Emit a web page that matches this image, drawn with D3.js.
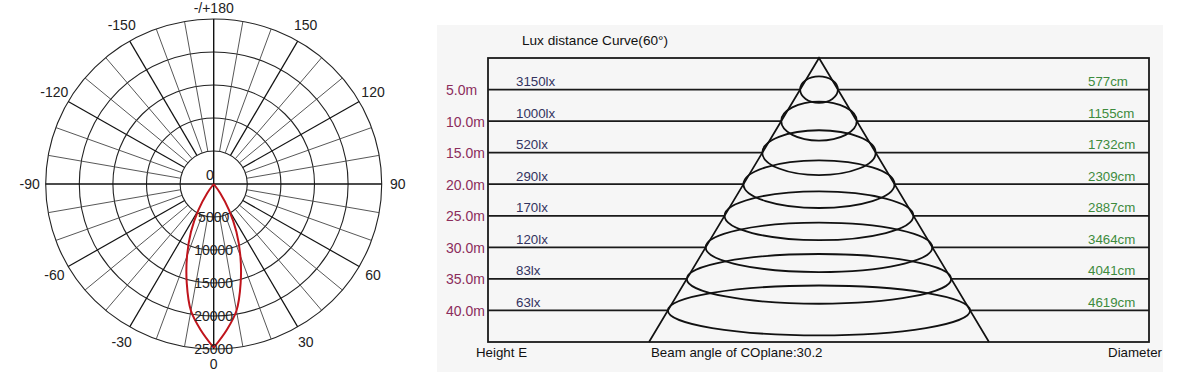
<!DOCTYPE html>
<html>
<head>
<meta charset="utf-8">
<script src="https://cdn.jsdelivr.net/npm/d3@7"></script>
<style>
body { margin: 0; background: #fff; }
text { font-family: 'Liberation Sans', Arial, sans-serif; }
</style>
</head>
<body>
<svg width="1180" height="372"></svg>
<script>
// polar intensity chart
var angleTicks = [0, 30, 60, 90, 120, 150, 180, -150, -120, -90, -60, -30];
var angleLabels = ['0', '30', '60', '90', '120', '150', '-/+180', '-150', '-120', '-90', '-60', '-30'];
var intensityTicks = [0, 5000, 10000, 15000, 20000, 25000];
var curveAngles = [-40, -35, -30, -25, -20, -15, -10, -5, 0, 5, 10, 15, 20, 25, 30, 35, 40];
var curveValues = [0, 1700, 4600, 8000, 11600, 15500, 19500, 22200, 24800, 22200, 19500, 15500, 11600, 8000, 4600, 1700, 0];

// lux distance chart
var heights = [5, 10, 15, 20, 25, 30, 35, 40];
var heightLabels = ['5.0m', '10.0m', '15.0m', '20.0m', '25.0m', '30.0m', '35.0m', '40.0m'];
var luxValues = ['3150lx', '1000lx', '520lx', '290lx', '170lx', '120lx', '83lx', '63lx'];
var diameters = [577, 1155, 1732, 2309, 2887, 3464, 4041, 4619];
var beamAngle = 60;
var coBeam = 30.2;
var maxHeight = 45;

function main() {
	var svg = d3.select('svg');

	// ---------- left: polar plot ----------
	var pcx = 213.7, pcy = 184;
	var rx = d3.scaleLinear().domain([0, 25000]).range([0, 168]);
	var ry = d3.scaleLinear().domain([0, 25000]).range([0, 165]);
	var maxI = intensityTicks[intensityTicks.length - 1];

	function pt(a, v) {
		var t = a * Math.PI / 180;
		return [pcx + rx(v) * Math.sin(t), pcy + ry(v) * Math.cos(t)];
	}

	var grid = svg.append('g');

	grid.selectAll('.ring')
		.data(intensityTicks.slice(1))
		.enter().append('ellipse')
		.attr('cx', pcx).attr('cy', pcy)
		.attr('rx', function(d){ return rx(d); })
		.attr('ry', function(d){ return ry(d); })
		.attr('fill', 'none')
		.attr('stroke', '#222')
		.attr('stroke-width', 1.1);

	// spokes every 10 degrees, outside the first ring
	var spokes = d3.range(0, 360, 10).filter(function(a){ return a % 90 != 0; });
	grid.selectAll('.spoke')
		.data(spokes)
		.enter().append('line')
		.attr('x1', function(d){ return pt(d, intensityTicks[1])[0]; })
		.attr('y1', function(d){ return pt(d, intensityTicks[1])[1]; })
		.attr('x2', function(d){ return pt(d, maxI)[0]; })
		.attr('y2', function(d){ return pt(d, maxI)[1]; })
		.attr('stroke', function(d){ return d % 30 == 0 ? '#111' : '#444'; })
		.attr('stroke-width', function(d){ return d % 30 == 0 ? 1.2 : 0.9; });

	// main axes
	[0, 90].forEach(function(a) {
		var p1 = pt(a, maxI), p2 = pt(a + 180, maxI);
		grid.append('line')
			.attr('x1', p1[0]).attr('y1', p1[1])
			.attr('x2', p2[0]).attr('y2', p2[1])
			.attr('stroke', '#111')
			.attr('stroke-width', 1.4);
	});

	// intensity curve, drawn as two halves meeting at the tip
	var pts = curveAngles.map(function(a, i){ return pt(a, curveValues[i]); });
	var mid = curveAngles.indexOf(0);
	var line = d3.line().curve(d3.curveCatmullRom);
	svg.append('path')
		.attr('d', line(pts.slice(0, mid + 1)) + line(pts.slice(mid)))
		.attr('fill', 'none')
		.attr('stroke', '#c0141c')
		.attr('stroke-width', 2);

	// intensity labels
	svg.selectAll('.ilabel')
		.data(intensityTicks)
		.enter().append('text')
		.attr('x', pcx)
		.attr('y', function(d){ return d == 0 ? pcy - 4 : pcy + ry(d); })
		.attr('dy', function(d){ return d == 0 ? 0 : '0.35em'; })
		.attr('text-anchor', function(d){ return d == 0 ? 'end' : 'middle'; })
		.attr('font-size', 14)
		.attr('fill', '#222')
		.text(function(d){ return d; });

	// angle labels
	svg.selectAll('.alabel')
		.data(angleTicks)
		.enter().append('text')
		.attr('x', function(d){ return pcx + 184 * Math.sin(d * Math.PI / 180); })
		.attr('y', function(d){
			var yy = pcy + 183 * Math.cos(d * Math.PI / 180);
			return Math.min(364, Math.max(8, yy));
		})
		.attr('dy', '0.35em')
		.attr('text-anchor', 'middle')
		.attr('font-size', 14)
		.attr('fill', '#222')
		.text(function(d, i){ return angleLabels[i]; });

	// ---------- right: lux distance curve ----------
	var ccx = 819, left = 488, right = 1149;
	var y = d3.scaleLinear().domain([0, maxHeight]).range([58, 342]);
	var tanHalf = Math.tan(beamAngle / 2 * Math.PI / 180);
	var xr = d3.scaleLinear().domain([0, maxHeight * 100 * tanHalf]).range([0, 170]);

	svg.append('rect')
		.attr('x', 437).attr('y', 25)
		.attr('width', 726).attr('height', 347)
		.attr('fill', '#f6f6f6');

	var r = svg.append('g');

	r.append('rect')
		.attr('x', left).attr('y', y(0))
		.attr('width', right - left).attr('height', y(maxHeight) - y(0))
		.attr('fill', 'none')
		.attr('stroke', '#1a1a1a')
		.attr('stroke-width', 1.8);

	function half(h) { return xr(h * 100 * tanHalf); }

	r.selectAll('.hl')
		.data(heights)
		.enter().append('path')
		.attr('d', function(d){
			return 'M' + left + ',' + y(d) + 'H' + (ccx - half(d)) +
				'M' + (ccx + half(d)) + ',' + y(d) + 'H' + right;
		})
		.attr('stroke', '#1a1a1a')
		.attr('stroke-width', 1.8);

	// cone
	r.append('path')
		.attr('d', 'M' + (ccx - half(maxHeight)) + ',' + y(maxHeight) +
			'L' + ccx + ',' + y(0) +
			'L' + (ccx + half(maxHeight)) + ',' + y(maxHeight))
		.attr('fill', 'none')
		.attr('stroke', '#111')
		.attr('stroke-width', 1.7);

	r.selectAll('.spot')
		.data(diameters)
		.enter().append('ellipse')
		.attr('cx', ccx)
		.attr('cy', function(d, i){ return y(heights[i]); })
		.attr('rx', function(d){ return xr(d / 2); })
		.attr('ry', function(d){ return 25 * (1 - Math.exp(-xr(d / 2) / 25)); })
		.attr('fill', 'none')
		.attr('stroke', '#111')
		.attr('stroke-width', 1.8);

	r.selectAll('.hlabel')
		.data(heights)
		.enter().append('text')
		.attr('x', 446)
		.attr('y', function(d){ return y(d); })
		.attr('dy', '0.4em')
		.attr('font-size', 14)
		.attr('fill', '#8c2d5c')
		.text(function(d, i){ return heightLabels[i]; });

	r.selectAll('.lux')
		.data(heights)
		.enter().append('text')
		.attr('x', 516)
		.attr('y', function(d){ return y(d) - 3.5; })
		.attr('font-size', 13.3)
		.attr('fill', '#33335f')
		.text(function(d, i){ return luxValues[i]; });

	r.selectAll('.diam')
		.data(heights)
		.enter().append('text')
		.attr('x', 1088)
		.attr('y', function(d){ return y(d) - 3.5; })
		.attr('font-size', 13.3)
		.attr('fill', '#3d8b3d')
		.text(function(d, i){ return diameters[i] + 'cm'; });

	r.append('text')
		.attr('x', 522).attr('y', 44.5)
		.attr('font-size', 13.6)
		.attr('fill', '#111')
		.text('Lux distance Curve(' + beamAngle + '°)');

	r.append('text')
		.attr('x', 476).attr('y', 357)
		.attr('font-size', 13.3)
		.attr('fill', '#111')
		.text('Height E');

	r.append('text')
		.attr('x', 651).attr('y', 357)
		.attr('font-size', 13.3)
		.attr('fill', '#111')
		.text('Beam angle of COplane:' + coBeam);

	r.append('text')
		.attr('x', 1162).attr('y', 357)
		.attr('text-anchor', 'end')
		.attr('font-size', 13.3)
		.attr('fill', '#111')
		.text('Diameter');
}
main();
</script>
</body>
</html>
